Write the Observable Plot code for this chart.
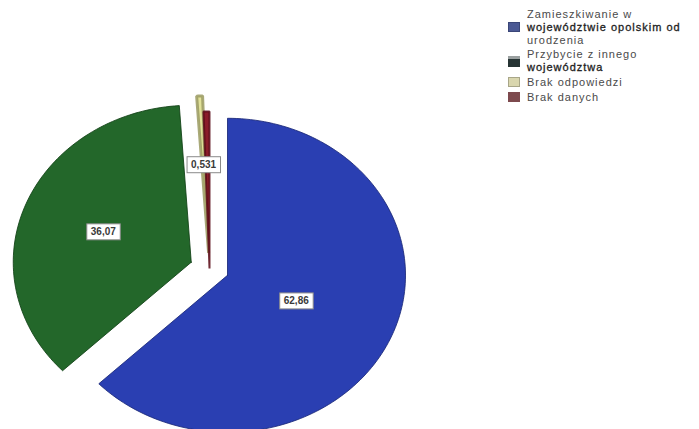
<!DOCTYPE html>
<html><head><meta charset="utf-8">
<script src="https://cdn.jsdelivr.net/npm/d3@7"></script>
<script src="https://cdn.jsdelivr.net/npm/@observablehq/plot@0.6"></script>
<style>
body{margin:0;background:#fff;}
#wrap{position:relative;width:699px;height:429px;overflow:hidden;}
#legend{position:absolute;left:508px;top:8px;font-family:"Liberation Sans",Arial,sans-serif;font-size:11px;color:#4a4a4a;letter-spacing:1px;line-height:12.8px;}
.item{display:flex;align-items:center;margin-bottom:2px;}
.sw{width:12px;height:10px;margin-right:7px;flex:none;box-sizing:border-box;}
.dark{color:#1e1e1e;-webkit-text-stroke:0.3px #1e1e1e;}
</style></head>
<body><div id="wrap"><div id="chart"></div><div id="legend"></div></div>
<script>
// ---- data ----
const categories = ["Zamieszkiwanie w województwie opolskim od urodzenia", "Przybycie z innego województwa", "Brak odpowiedzi", "Brak danych"];
const legendLines = [["Zamieszkiwanie w", "województwie opolskim od", "urodzenia"], ["Przybycie z innego", "województwa"], ["Brak odpowiedzi"], ["Brak danych"]];
const values = [62.86, 36.07, 0.531, 0.539];
const valueLabels = ["62,86", "36,07", "0,531", ""];

// ---- style / layout ----
const sliceFill = ["#2a3fb2", "#23672a", "#e2e29a", "#8a1d2a"];
const sliceStroke = ["#1a2878", "#0f3f14", "#9a9a62", "#5a0c18"];
const sliceStrokeWidth = [1, 1, 3, 2];
const legendSwatch = [
  "background:#4b5994;border:1px solid #3a4678;",
  "background:linear-gradient(#9aa0a0 0 25%, #263434 25%);height:11px;",
  "background:#d9d6ae;border:1px solid #a8a688;",
  "background:#7d4a4e;"
];
const explode = [0.11, 0.11, 0.1, 0];
const labelRadius = [0.42, 0.53, 0.56, 0];
const W = 699, H = 429, cx = 209, cy = 268, rx = 178, ry = 157;

// ---- geometry from data ----
const arcs = d3.pie().sort(null).value(d => d)(values);
const pts = [];
const labelData = [];
arcs.forEach((a, i) => {
  const mid = (a.startAngle + a.endAngle) / 2;
  const ox = explode[i] * Math.sin(mid), oy = explode[i] * Math.cos(mid);
  const n = Math.max(4, Math.ceil((a.endAngle - a.startAngle) / (2 * Math.PI) * 240));
  pts.push({k: i, x: ox, y: oy});
  for (let j = 0; j <= n; j++) {
    const t = a.startAngle + (a.endAngle - a.startAngle) * j / n;
    pts.push({k: i, x: ox + Math.sin(t), y: oy + Math.cos(t)});
  }
  pts.push({k: i, x: ox, y: oy});
  if (valueLabels[i]) labelData.push({
    label: valueLabels[i],
    x: ox + labelRadius[i] * Math.sin(mid),
    y: oy + labelRadius[i] * Math.cos(mid)
  });
});

const chart = Plot.plot({
  width: W, height: H,
  margin: 0,
  x: {domain: [-cx / rx, (W - cx) / rx], range: [0, W], axis: null},
  y: {domain: [(cy - H) / ry, cy / ry], range: [H, 0], axis: null},
  marks: [
    ...arcs.map((a, i) => Plot.line(pts.filter(p => p.k === i), {x: "x", y: "y", fill: sliceFill[i], stroke: sliceStroke[i], strokeWidth: sliceStrokeWidth[i], strokeOpacity: 0.85, strokeLinejoin: "miter", curve: "linear-closed"})),
    Plot.text(labelData, {x: "x", y: "y", text: "label", fontSize: 10, fontWeight: "bold", fill: "#3a3a3a", fontFamily: "Liberation Sans, Arial, sans-serif", className: "vlab"})
  ]
});
chart.style.background = "#fff";
document.getElementById("chart").appendChild(chart);

// label boxes
chart.querySelectorAll(".vlab text").forEach(t => {
  const b = t.getBBox();
  const r = document.createElementNS("http://www.w3.org/2000/svg", "rect");
  r.setAttribute("x", b.x - 4); r.setAttribute("y", b.y - 2.5);
  r.setAttribute("width", b.width + 8); r.setAttribute("height", b.height + 5);
  r.setAttribute("fill", "#fff"); r.setAttribute("stroke", "#8a8a8a"); r.setAttribute("stroke-width", 1);
  const tr = t.getAttribute("transform");
  if (tr) r.setAttribute("transform", tr);
  t.parentNode.insertBefore(r, t);
});

// legend
const lg = document.getElementById("legend");
categories.forEach((c, i) => {
  const it = document.createElement("div"); it.className = "item";
  const sw = document.createElement("div"); sw.className = "sw"; sw.style.cssText = legendSwatch[i];
  const tx = document.createElement("div");
  tx.innerHTML = legendLines[i].map((l, j) => (i <= 1 && j === 1) ? `<span class="dark">${l}</span>` : l).join("<br>");
  tx.title = c;
  it.appendChild(sw); it.appendChild(tx); lg.appendChild(it);
});
</script></body></html>
